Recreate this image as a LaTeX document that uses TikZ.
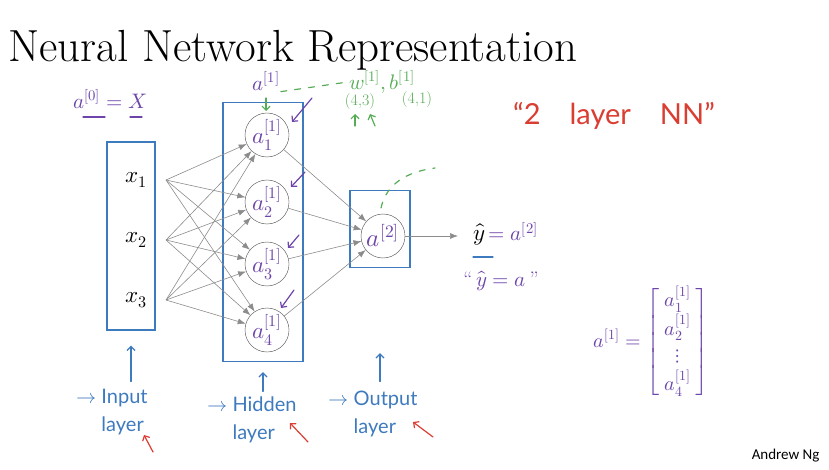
\documentclass[tikz,border=0pt]{standalone}
\usepackage{fontspec}
\usepackage{unicode-math}
\newfontfamily\handfont{Lato}
\newfontfamily\slidefont{Carlito}
\usetikzlibrary{arrows.meta}
\definecolor{penblue}{RGB}{62,122,190}
\definecolor{penpurple}{RGB}{108,68,170}
\definecolor{pengreen}{RGB}{86,172,86}
\definecolor{penred}{RGB}{218,62,50}
\tikzstyle{neuron}=[draw=black!70, circle, minimum size=44pt, inner sep=0pt, text=penpurple, font=\fontsize{23}{26}\selectfont]
\tikzstyle{feature}=[font=\fontsize{23}{28}\selectfont]
\tikzstyle{layer box}=[draw=penblue, line width=1.4pt, inner sep=0pt]
\tikzstyle{weight}=[draw=black!45, line width=0.6pt, -{Latex[length=8pt,width=6pt]}]
\tikzstyle{pen}=[line width=1.2pt, line cap=round, line join=round]
\tikzstyle{pen arrow}=[pen, -{Straight Barb[length=4pt,width=8pt]}]
\tikzstyle{note}=[text=penpurple, font=\fontsize{21}{24}\selectfont]
\tikzstyle{green note}=[text=pengreen, font=\fontsize{21}{24}\selectfont]
\tikzstyle{layer label}=[text=penblue, align=left, font=\handfont\fontsize{20}{28}\selectfont]

\begin{document}
\begin{tikzpicture}[x=1pt, y=-1pt]
      \useasboundingbox (0,0) rectangle (829,470);

      \node[anchor=base west, font=\fontsize{45}{54}\selectfont] (title) at (5,62) {Neural Network Representation};

      % input layer
      \node[layer box, minimum width=48pt, minimum height=188pt] (in_box) at (131,236) {};
      \node[feature] (x1) at (136,180) {$x_1$};
      \node[feature] (x2) at (136,240) {$x_2$};
      \node[feature] (x3) at (136,300) {$x_3$};
      \coordinate (in1) at (166,180);
      \coordinate (in2) at (166,240);
      \coordinate (in3) at (166,300);

      % hidden layer
      \node[layer box, minimum width=80pt, minimum height=259pt] (hid_box) at (263,232) {};
      \node[neuron] (h1) at (267,135) {$a^{[1]}_1$};
      \node[neuron] (h2) at (267,202) {$a^{[1]}_2$};
      \node[neuron] (h3) at (267,264) {$a^{[1]}_3$};
      \node[neuron] (h4) at (267,330) {$a^{[1]}_4$};

      % output layer
      \node[layer box, minimum width=60pt, minimum height=77pt] (out_box) at (380,229) {};
      \node[neuron, font=\fontsize{25}{28}\selectfont] (o) at (383,236) {$a^{[2]}$};
      \node[feature, anchor=west, inner sep=1pt] (yhat) at (472,234) {$\hat{y}$\textcolor{penpurple}{\fontsize{21}{24}\selectfont$\,=a^{[2]}$}};

      \draw[weight] (in1) -- (h1);
      \draw[weight] (in1) -- (h2);
      \draw[weight] (in1) -- (h3);
      \draw[weight] (in1) -- (h4);
      \draw[weight] (in2) -- (h1);
      \draw[weight] (in2) -- (h2);
      \draw[weight] (in2) -- (h3);
      \draw[weight] (in2) -- (h4);
      \draw[weight] (in3) -- (h1);
      \draw[weight] (in3) -- (h2);
      \draw[weight] (in3) -- (h3);
      \draw[weight] (in3) -- (h4);
      \draw[weight] (h1) -- (o);
      \draw[weight] (h2) -- (o);
      \draw[weight] (h3) -- (o);
      \draw[weight] (h4) -- (o);
      \draw[weight, shorten >=14pt] (o) -- (yhat.west |- o);

      % notes
      \node[note] (a_zero) at (110,99) {$a^{[0]}=X$};
      \draw[pen, penpurple] (83,117) -- (105,117);
      \draw[pen, penpurple] (130,117) -- (142,117);

      \node[note, inner sep=1pt] (a_one) at (266,81) {$a^{[1]}$};
      \node[green note, inner sep=1pt] (wb) at (382,82) {$w^{[1]},b^{[1]}$};
      \node[text=pengreen, font=\fontsize{16}{18}\selectfont] (w_dim) at (360,102) {(4,3)};
      \node[text=pengreen, font=\fontsize{16}{18}\selectfont] (b_dim) at (417,100) {(4,1)};
      \draw[pen, pengreen, dashed, dash pattern=on 6pt off 8pt] (a_one.south east) -- (wb.west);
      \draw[pen arrow, pengreen] (355,126) -- (355,114);
      \draw[pen arrow, pengreen] (375,126) -- (370,114);
      \draw[pen arrow, pengreen] (266,98) -- (266,111);

      \draw[pen arrow, penpurple] (312,98) -- (292,122);
      \draw[pen arrow, penpurple] (305,172) -- (291,187);
      \draw[pen arrow, penpurple] (299,235) -- (288,248);
      \draw[pen arrow, penpurple] (294,290) -- (281,308);

      \draw[pen, pengreen, dashed, dash pattern=on 6pt off 8pt] (381,208) .. controls (386,185) and (405,172) .. (435,168);

      \draw[pen, penblue] (473,257) -- (493,257);
      \node[note] (yhat_quote) at (501,281) {``\,$\hat{y}=a$\,''};

      \node[text=penred, font=\handfont\fontsize{29}{32}\selectfont] (nn) at (614,116) {“2\quad layer\quad NN”};

      \node[note, anchor=west, font=\fontsize{20}{23}\selectfont] (a_vec) at (590,342)
        {$a^{[1]}=\left[\renewcommand{\arraystretch}{1.15}\begin{array}{c} a^{[1]}_1\\ a^{[1]}_2\\ \vdots\\ a^{[1]}_4\end{array}\right]$};

      % layer labels
      \node[layer label] (in_label) at (112,412) {$\rightarrow$ Input\\ \phantom{$\rightarrow$ }layer};
      \node[layer label] (hid_label) at (252,420) {$\rightarrow$ Hidden\\ \phantom{$\rightarrow$ }layer};
      \node[layer label] (out_label) at (373,414) {$\rightarrow$ Output\\ \phantom{$\rightarrow$ }layer};
      \draw[pen arrow, penblue] ([yshift=4pt]in_label.north -| in_box.south) -- ([yshift=-15pt]in_box.south);
      \draw[pen arrow, penblue] ([yshift=2pt]hid_label.north -| hid_box.south) -- ([yshift=-10pt]hid_box.south);
      \draw[pen arrow, penblue] ([yshift=6pt]out_label.north -| out_box.south) -- ([yshift=-85pt]out_box.south);
      \draw[pen arrow, penred] (153,452) -- (144,435);
      \draw[pen arrow, penred] (308,442) -- (290,423);
      \draw[pen arrow, penred] (433,437) -- (413,422);

      \node[anchor=east, font=\slidefont\fontsize{15}{18}\selectfont] (author) at (823,456) {Andrew Ng};
    \end{tikzpicture}
\end{document}
